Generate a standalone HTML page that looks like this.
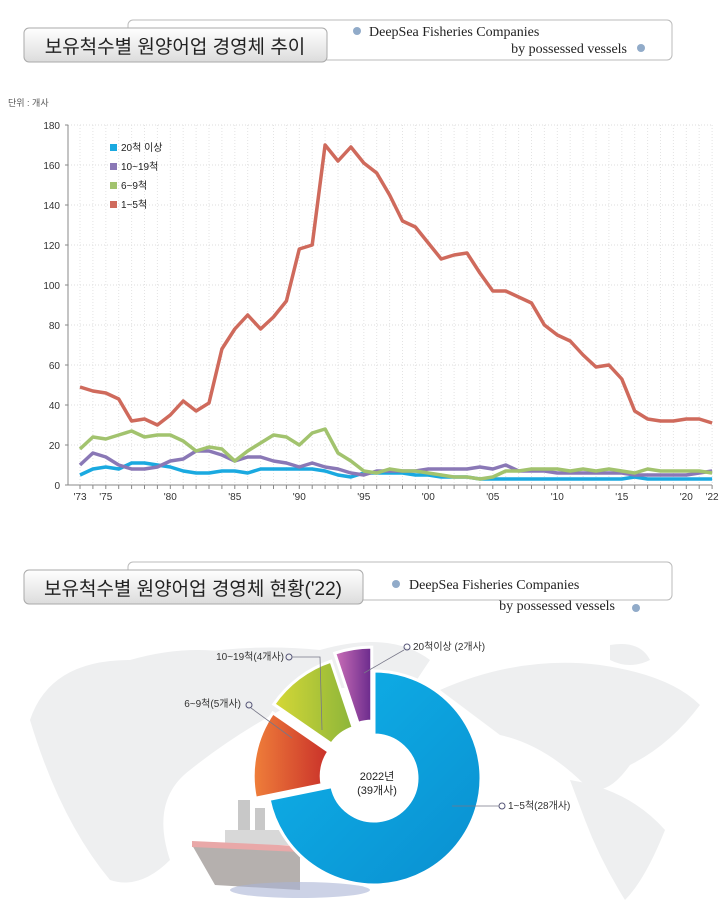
<!DOCTYPE html>
<html><head><meta charset="utf-8"><style>
body{margin:0;background:#fff;width:720px;height:907px;overflow:hidden;font-family:"Liberation Sans","Noto Sans CJK KR",sans-serif}
</style></head><body>
<svg id="s" width="720" height="907" xmlns="http://www.w3.org/2000/svg" font-family="Liberation Sans, Noto Sans CJK KR, sans-serif">
<defs>
<linearGradient id="hb" x1="0" y1="0" x2="0" y2="1"><stop offset="0" stop-color="#ffffff"/><stop offset="1" stop-color="#dcdcdc"/></linearGradient>
<linearGradient id="gb" x1="0" y1="0" x2="1" y2="1"><stop offset="0" stop-color="#0fb3ea"/><stop offset="1" stop-color="#0a8fd0"/></linearGradient>
<linearGradient id="gr" x1="0" y1="0" x2="1" y2="0"><stop offset="0" stop-color="#ef7f3a"/><stop offset="1" stop-color="#c9302a"/></linearGradient>
<linearGradient id="gg" x1="0" y1="0" x2="1" y2="0"><stop offset="0" stop-color="#d6d836"/><stop offset="1" stop-color="#8cb53a"/></linearGradient>
<linearGradient id="gp" x1="0" y1="0" x2="1" y2="0"><stop offset="0" stop-color="#cc70b8"/><stop offset="1" stop-color="#6a2a8c"/></linearGradient>
</defs>
<rect x="128" y="20" width="544" height="40" rx="5" fill="#fff" stroke="#bbb"/>
<rect x="24" y="28" width="303" height="34" rx="5" fill="url(#hb)" stroke="#aaa"/>
<text x="175" y="53" font-size="19" text-anchor="middle" fill="#222">보유척수별 원양어업 경영체 추이</text>
<circle cx="357" cy="31" r="4" fill="#91abc9"/>
<text x="369" y="36" font-size="14" font-family="Liberation Serif, serif" fill="#222">DeepSea Fisheries Companies</text>
<text x="627" y="53" font-size="14" font-family="Liberation Serif, serif" text-anchor="end" fill="#222">by possessed vessels</text>
<circle cx="641" cy="48" r="4" fill="#91abc9"/>
<text x="8" y="106" font-size="9" fill="#555">단위 : 개사</text>
<g id="chart"></g>
<rect x="128" y="562" width="544" height="38" rx="5" fill="#fff" stroke="#bbb"/>
<rect x="24" y="570" width="339" height="34" rx="5" fill="url(#hb)" stroke="#aaa"/>
<text x="193" y="595" font-size="19" text-anchor="middle" fill="#222">보유척수별 원양어업 경영체 현황('22)</text>
<circle cx="396" cy="584" r="4" fill="#91abc9"/>
<text x="409" y="589" font-size="14" font-family="Liberation Serif, serif" fill="#222">DeepSea Fisheries Companies</text>
<text x="615" y="610" font-size="14" font-family="Liberation Serif, serif" text-anchor="end" fill="#222">by possessed vessels</text>
<circle cx="636" cy="608" r="4" fill="#91abc9"/>
<g fill="#eeeff0">
<path d="M30 720 Q50 660 130 660 Q200 640 260 660 L300 700 Q240 730 190 770 Q150 800 170 860 Q140 890 110 880 Q60 820 30 720Z"/>
<path d="M120 670 Q220 640 320 650 Q390 630 430 660 L410 690 Q340 680 300 700Z"/>
<path d="M440 690 Q520 655 600 665 Q670 675 700 705 Q670 745 630 765 Q605 800 585 785 Q545 745 500 735Z"/>
<path d="M570 780 Q630 790 665 830 Q645 880 625 900 Q600 860 585 820Z"/>
<path d="M610 645 Q640 640 650 660 Q630 670 610 660Z"/>
<path d="M80 690 Q110 680 120 700 Q100 710 80 700Z"/>
</g>
<g>
<rect x="238" y="800" width="12" height="30" fill="#c8c8c8"/>
<rect x="255" y="808" width="10" height="22" fill="#c8c8c8"/>
<path d="M225 830 L290 830 L300 845 L225 845Z" fill="#d8d8d8"/>
<path d="M192 845 L300 850 L300 890 L215 885Z" fill="#b5b0ae"/>
<path d="M192 841 L300 846 L300 852 L192 847Z" fill="#e9a8a8"/>
<ellipse cx="300" cy="890" rx="70" ry="8" fill="#aab4d6" opacity="0.6"/>
</g>
<g id="donut"></g>
<g font-size="10" fill="#333">
<text x="284" y="660" text-anchor="end">10~19척(4개사)</text>
<circle cx="289" cy="657" r="3" fill="none" stroke="#557"/>
<polyline points="292,657 320,657 322,730" fill="none" stroke="#778" stroke-width="0.8"/>
<text x="241" y="707" text-anchor="end">6~9척(5개사)</text>
<circle cx="249" cy="705" r="3" fill="none" stroke="#557"/>
<line x1="251" y1="708" x2="292" y2="738" stroke="#778" stroke-width="0.8"/>
<text x="413" y="650">20척이상 (2개사)</text>
<circle cx="407" cy="647" r="3" fill="none" stroke="#557"/>
<line x1="404" y1="650" x2="364" y2="673" stroke="#778" stroke-width="0.8"/>
<text x="508" y="809">1~5척(28개사)</text>
<circle cx="502" cy="806" r="3" fill="none" stroke="#557"/>
<line x1="452" y1="806" x2="499" y2="806" stroke="#778" stroke-width="0.8"/>
</g>
</svg>
<script>
var NS="http://www.w3.org/2000/svg";
function el(p,t,a,txt){var e=document.createElementNS(NS,t);for(var k in a)e.setAttribute(k,a[k]);if(txt!=null)e.textContent=txt;p.appendChild(e);return e;}
var g=document.getElementById('chart');
var X0=68,X1=712,Y0=485,ys=2;
function X(y){return 80+12.9*(y-1973);}function Y(v){return Y0-v*ys;}
for(var v=0;v<=180;v+=20){
 el(g,'line',{x1:X0,x2:X1,y1:Y(v),y2:Y(v),stroke:'#ddd','stroke-dasharray':'1,2'});
 el(g,'line',{x1:X0-3,x2:X0,y1:Y(v),y2:Y(v),stroke:'#888'});
 el(g,'text',{x:X0-8,y:Y(v)+4,'font-size':10,'text-anchor':'end',fill:'#333'},v);
}
for(var yr=1973;yr<=2022;yr++){el(g,'line',{x1:X(yr),x2:X(yr),y1:125,y2:485,stroke:'#e3e3e3','stroke-dasharray':'1,2'});el(g,'line',{x1:X(yr),x2:X(yr),y1:485,y2:489,stroke:'#888'});}
el(g,'line',{x1:X0,x2:X0,y1:125,y2:485,stroke:'#888'});
el(g,'line',{x1:X0,x2:X1,y1:485,y2:485,stroke:'#888'});
[[1973,"'73"],[1975,"'75"],[1980,"'80"],[1985,"'85"],[1990,"'90"],[1995,"'95"],[2000,"'00"],[2005,"'05"],[2010,"'10"],[2015,"'15"],[2020,"'20"],[2022,"'22"]].forEach(function(l){el(g,'text',{x:X(l[0]),y:500,'font-size':10,'text-anchor':'middle',fill:'#333'},l[1]);});
var red=[49,47,46,43,32,33,30,35,42,37,41,68,78,85,78,84,92,118,120,170,162,169,161,156,145,132,129,121,113,115,116,106,97,97,94,91,80,75,72,65,59,60,53,37,33,32,32,33,33,31];
var grn=[18,24,23,25,27,24,25,25,22,17,19,18,12,17,21,25,24,20,26,28,16,12,7,6,8,7,7,6,5,4,4,3,4,7,7,8,8,8,7,8,7,8,7,6,8,7,7,7,7,6];
var pur=[10,16,14,10,8,8,9,12,13,17,17,15,12,14,14,12,11,9,11,9,8,6,5,7,7,7,7,8,8,8,8,9,8,10,7,7,7,6,6,6,6,6,6,5,5,5,5,5,6,7];
var cya=[5,8,9,8,11,11,10,9,7,6,6,7,7,6,8,8,8,8,8,7,5,4,6,6,6,6,5,5,4,4,4,3,3,3,3,3,3,3,3,3,3,3,3,4,3,3,3,3,3,3];
[[cya,'#1aa9e0'],[pur,'#8a78b6'],[grn,'#a2c36e'],[red,'#cf6a5c']].forEach(function(s){
 el(g,'polyline',{points:s[0].map(function(v,i){return X(1973+i)+','+Y(v);}).join(' '),fill:'none',stroke:s[1],'stroke-width':3.5,'stroke-linejoin':'round'});
});
[['20척 이상','#1aa9e0'],['10~19척','#8a78b6'],['6~9척','#a2c36e'],['1~5척','#cf6a5c']].forEach(function(l,i){
 el(g,'rect',{x:110,y:144+i*19,width:7,height:7,fill:l[1]});
 el(g,'text',{x:121,y:151+i*19,'font-size':10,fill:'#222'},l[0]);
});
var d=document.getElementById('donut');var cx=374,cy=778,R=107,r=43;
function pt(a,rad,ox,oy){var t=(a-90)*Math.PI/180;return [cx+ox+rad*Math.cos(t),cy+oy+rad*Math.sin(t)];}
function arc(a0,a1,fill,off,Ro){var m=(a0+a1)/2,t=(m-90)*Math.PI/180,ox=off*Math.cos(t),oy=off*Math.sin(t);
 var p1=pt(a0,Ro,ox,oy),p2=pt(a1,Ro,ox,oy),p3=pt(a1,r,ox,oy),p4=pt(a0,r,ox,oy),L=(a1-a0)>180?1:0;
 el(d,'path',{d:'M'+p1+' A'+Ro+','+Ro+' 0 '+L+' 1 '+p2+' L'+p3+' A'+r+','+r+' 0 '+L+' 0 '+p4+'Z',fill:fill,stroke:'#fff','stroke-width':3});}
var a=0,segs=[[28,'url(#gb)',0,R],[5,'url(#gr)',10,R+4],[4,'url(#gg)',12,R+6],[2,'url(#gp)',14,R+10]];
segs.forEach(function(s){var b=a+s[0]/39*360;arc(a,b,s[1],s[2],s[3]);a=b;});
el(d,'circle',{cx:cx,cy:cy,r:r,fill:'#fff'});
el(d,'text',{x:cx+3,y:cy+2,'font-size':11,'text-anchor':'middle',fill:'#222'},'2022년');
el(d,'text',{x:cx+3,y:cy+16,'font-size':11,'text-anchor':'middle',fill:'#222'},'(39개사)');
</script>
</body></html>
